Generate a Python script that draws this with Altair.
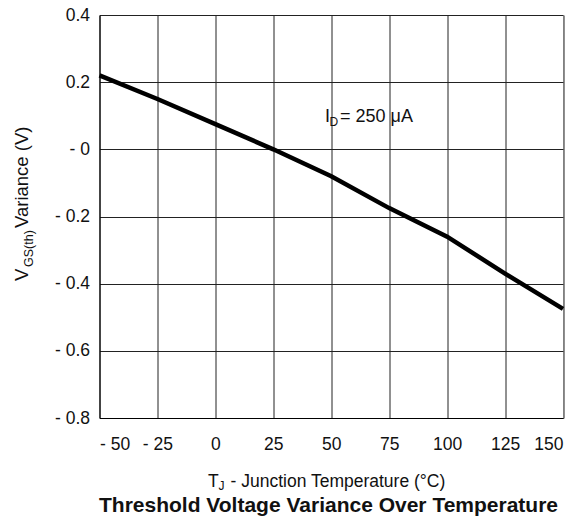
import json
import altair as alt
import pandas as pd

# Data
temps = [-50, -25, 0, 25, 50, 75, 100, 125, 150]
variance = [0.22, 0.15, 0.075, 0.0, -0.08, -0.175, -0.26, -0.37, -0.475]

x_ticks = [-50, -25, 0, 25, 50, 75, 100, 125, 150]
x_tick_labels = ["- 50", "- 25", "0", "25", "50", "75", "100", "125", "150"]
y_ticks = [0.4, 0.2, 0.0, -0.2, -0.4, -0.6, -0.8]
y_tick_labels = ["0.4", "0.2", "- 0", "- 0.2", "- 0.4", "- 0.6", "- 0.8"]

title_text = "Threshold Voltage Variance Over Temperature"
x_title_main = "T"
x_title_sub = "J"
x_title_rest = "- Junction Temperature (°C)"
y_title_main = "V"
y_title_sub = "GS(th)"
y_title_rest = "Variance (V)"
annot_main = "I"
annot_sub = "D"
annot_rest = "= 250 μA"

FONT = "Liberation Sans"
W, H = 463.5, 403

df = pd.DataFrame({"T": temps, "V": variance})

x_expr = json.dumps(x_tick_labels) + "[round((datum.value + 50) / 25)]"
y_expr = json.dumps(y_tick_labels) + "[round((0.4 - datum.value) / 0.2)]"

line = alt.Chart(df).mark_line(color="black", strokeWidth=4.5).encode(
    x=alt.X("T:Q", scale=alt.Scale(domain=[-50, 150], nice=False),
            axis=alt.Axis(values=x_ticks, labelExpr=x_expr, title=None,
                          grid=True, gridColor="#222", gridOpacity=1, gridWidth=1,
                          domainColor="#000", ticks=False, labelPadding=17,
                          labelFont=FONT, labelFontSize=17.5, labelColor="#111")),
    y=alt.Y("V:Q", scale=alt.Scale(domain=[-0.8, 0.4], nice=False),
            axis=alt.Axis(values=y_ticks, labelExpr=y_expr, title=None,
                          grid=True, gridColor="#222", gridOpacity=1, gridWidth=1,
                          domainColor="#000", ticks=False, labelPadding=10,
                          labelFont=FONT, labelFontSize=17.5, labelColor="#111")),
)


def txt(s, x, y, size, angle=0, align="left", bold=False):
    return alt.Chart(pd.DataFrame({"t": [s]})).mark_text(
        font=FONT, fontSize=size, angle=angle, align=align, baseline="alphabetic",
        fontWeight="bold" if bold else "normal", color="#111",
    ).encode(x=alt.value(x), y=alt.value(y), text="t:N")


layers = [
    line,
    txt(annot_main, 225.5, 106.7, 18),
    txt(annot_sub, 230, 110.5, 12),
    txt(annot_rest, 240.5, 106.7, 18),
    txt(x_title_main, 108.5, 472, 17.5),
    txt(x_title_sub, 119, 475, 12),
    txt(x_title_rest, 131, 472, 17.5),
    txt(y_title_main, -71.5, 266, 18.5, angle=270),
    txt(y_title_sub, -67, 252, 12.5, angle=270),
    txt(y_title_rest, -72, 213, 18.5, angle=270),
    txt(title_text, 229, 497, 21, align="center", bold=True),
]

chart = alt.layer(*layers).properties(
    width=W, height=H,
    autosize=alt.AutoSizeParams(type="none"),
    padding={"left": 91.5, "top": 7, "right": 5, "bottom": 99},
).configure_view(stroke="#666", strokeWidth=1).configure(background="white")

chart.save("out.html", embed_options={"renderer": "svg", "actions": False})
